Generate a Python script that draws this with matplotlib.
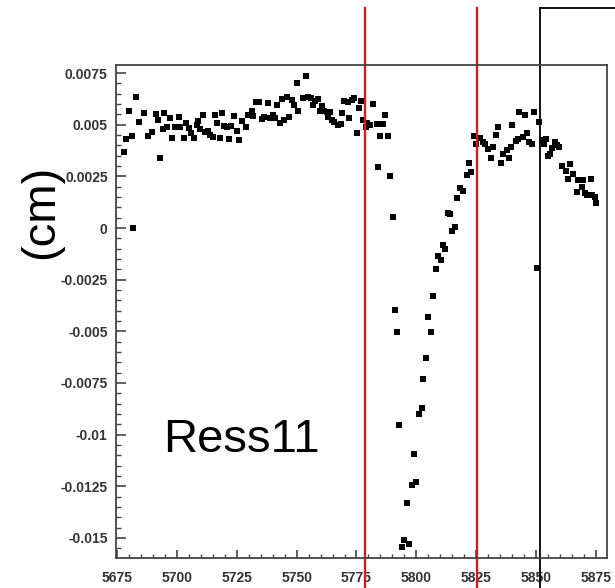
import matplotlib
matplotlib.use("Agg")
import matplotlib.pyplot as plt
from matplotlib.ticker import MultipleLocator, FuncFormatter

plt.rcParams['font.family'] = ['Liberation Sans', 'DejaVu Sans']

# Residual points (x in channel, y in cm)
xs = [5677.9, 5678.7, 5680.0, 5681.1, 5681.8, 5682.9, 5684.3, 5686.4, 5688.0, 5689.7,
      5691.1, 5692.2, 5692.9, 5694.3, 5694.7, 5696.0, 5697.1, 5697.8, 5699.2, 5700.9,
      5701.3, 5702.9, 5703.8, 5705.2, 5705.7, 5707.1, 5708.3, 5708.9, 5709.6, 5711.0,
      5711.7, 5713.1, 5713.8, 5714.9, 5715.9, 5716.9, 5718.0, 5718.9, 5719.7, 5720.8,
      5721.9, 5722.6, 5723.8, 5724.9, 5726.0, 5727.0, 5728.7, 5729.8, 5731.2, 5731.9,
      5733.0, 5734.4, 5735.7, 5736.5, 5737.9, 5738.9, 5740.0, 5741.0, 5741.7, 5743.0,
      5744.0, 5744.7, 5745.8, 5746.9, 5747.9, 5749.0, 5750.0, 5750.7, 5752.5, 5753.9,
      5754.9, 5755.9, 5757.0, 5757.7, 5758.8, 5759.8, 5760.5, 5761.4, 5762.6, 5763.2,
      5763.9, 5764.6, 5765.7, 5767.4, 5768.5, 5768.8, 5769.8, 5771.6, 5772.0, 5773.0,
      5774.0, 5775.1, 5776.0, 5776.9, 5777.8, 5779.0, 5779.5, 5780.6, 5782.0, 5783.4,
      5784.1, 5784.8, 5786.2, 5787.0, 5788.3, 5789.0, 5790.1, 5791.1, 5791.8, 5792.9,
      5794.0, 5795.0, 5796.0, 5797.1, 5798.1, 5799.0, 5799.9, 5801.1, 5802.2, 5802.9,
      5804.0, 5805.0, 5806.1, 5807.1, 5808.2, 5809.2, 5810.2, 5811.0, 5812.2, 5813.4,
      5814.0, 5815.0, 5816.1, 5817.1, 5818.2, 5819.6, 5821.1, 5822.1, 5823.0, 5824.0,
      5825.0, 5826.6, 5827.7, 5828.7, 5830.1, 5831.1, 5831.9, 5833.3, 5834.2, 5835.2,
      5836.1, 5837.7, 5838.7, 5839.4, 5840.2, 5841.6, 5842.6, 5843.0, 5844.4, 5845.4,
      5846.3, 5847.2, 5848.2, 5849.1, 5850.3, 5851.4, 5852.4, 5853.3, 5854.2, 5855.1,
      5855.8, 5856.9, 5857.9, 5858.9, 5859.7, 5861.1, 5862.5, 5863.5, 5864.2, 5865.3,
      5867.0, 5867.6, 5869.1, 5869.5, 5870.4, 5871.4, 5873.2, 5873.6, 5874.6, 5875.3]

ys = [0.00367, 0.00431, 0.00568, 0.00446, 0.00000, 0.00635, 0.00515, 0.00556, 0.00446, 0.00465,
      0.00552, 0.00523, 0.00338, 0.00478, 0.00559, 0.00488, 0.00531, 0.00438, 0.00488, 0.00539,
      0.00488, 0.00434, 0.00510, 0.00483, 0.00459, 0.00434, 0.00499, 0.00520, 0.00478, 0.00547,
      0.00467, 0.00471, 0.00450, 0.00439, 0.00547, 0.00510, 0.00434, 0.00556, 0.00494, 0.00491,
      0.00430, 0.00494, 0.00543, 0.00471, 0.00426, 0.00520, 0.00491, 0.00547, 0.00568, 0.00543,
      0.00612, 0.00609, 0.00527, 0.00539, 0.00604, 0.00531, 0.00547, 0.00531, 0.00596, 0.00507,
      0.00624, 0.00523, 0.00636, 0.00539, 0.00620, 0.00596, 0.00701, 0.00568, 0.00631, 0.00736,
      0.00636, 0.00631, 0.00596, 0.00617, 0.00624, 0.00568, 0.00591, 0.00568, 0.00563, 0.00539,
      0.00563, 0.00523, 0.00515, 0.00499, 0.00504, 0.00556, 0.00617, 0.00612, 0.00531, 0.00620,
      0.00628, 0.00462, 0.00580, 0.00617, 0.00523, 0.00488, 0.00507, 0.00499, 0.00601, 0.00504,
      0.00297, 0.00446, 0.00504, 0.00547, 0.00446, 0.00252, 0.00052, -0.00397, -0.00504, -0.00954,
      -0.01544, -0.01508, -0.01331, -0.01528, -0.01245, -0.01095, -0.01229, -0.00901, -0.00869, -0.00733,
      -0.00627, -0.00430, -0.00502, -0.00329, -0.00199, -0.00136, -0.00155, -0.00082, -0.00103, 0.00074,
      0.00070, -0.00013, 0.00006, 0.00144, 0.00192, 0.00180, 0.00255, 0.00313, 0.00270, 0.00446,
      0.00407, 0.00434, 0.00418, 0.00407, 0.00381, 0.00338, 0.00394, 0.00451, 0.00488, 0.00316,
      0.00359, 0.00378, 0.00338, 0.00394, 0.00499, 0.00423, 0.00430, 0.00563, 0.00442, 0.00547,
      0.00462, 0.00418, 0.00407, 0.00563, -0.00194, 0.00515, 0.00426, 0.00407, 0.00430, 0.00349,
      0.00359, 0.00386, 0.00418, 0.00402, 0.00394, 0.00300, 0.00278, 0.00236, 0.00310, 0.00262,
      0.00176, 0.00233, 0.00200, 0.00233, 0.00171, 0.00160, 0.00236, 0.00160, 0.00152, 0.00123]

# marker lines drawn over the plot
red_lines = [5778.6, 5825.5]
black_line = 5851.8

fig = plt.figure(figsize=(6.15, 5.88), dpi=100)
ax = fig.add_axes([0.1886, 0.051, 0.7984, 0.8385])

ax.plot(xs, ys, 's', color='black', markersize=3.9, markeredgewidth=0)

ax.set_xlim(5674.5, 5879.7)
ax.set_ylim(-0.01597, 0.00789)

# ROOT-like axis look
ax.xaxis.set_major_locator(MultipleLocator(25))
ax.xaxis.set_minor_locator(MultipleLocator(5))
ax.yaxis.set_major_locator(MultipleLocator(0.0025))
ax.yaxis.set_minor_locator(MultipleLocator(0.0005))
ax.yaxis.set_major_formatter(FuncFormatter(lambda v, p: '0' if abs(v) < 1e-9 else ('%g' % round(v, 5))))
ax.xaxis.set_major_formatter(FuncFormatter(lambda v, p: '%d' % v))

ax.tick_params(axis='both', which='both', direction='in', colors='#444444',
               labelcolor='#333333', labelsize=10, top=False, right=False)
ax.tick_params(axis='y', which='major', length=7, width=1.2, pad=6)
ax.tick_params(axis='y', which='minor', length=3.5, width=1.0)
ax.tick_params(axis='x', which='major', length=6, width=1.2, pad=9)
ax.tick_params(axis='x', which='minor', length=3, width=1.0)
for lab in ax.get_xticklabels() + ax.get_yticklabels():
    lab.set_fontweight('bold')
for sp in ax.spines.values():
    sp.set_color('#444444')
    sp.set_linewidth(1.3)

# lines sticking out of the frame
for xv in red_lines:
    ax.axvline(xv, ymin=-0.07, ymax=1.1156, color='#ee1111', linewidth=1.6, clip_on=False)
ax.axvline(black_line, ymin=-0.07, ymax=1.1156, color='black', linewidth=1.3, clip_on=False)
ax.plot([black_line, 5900], [1.1156, 1.1156], color='black', linewidth=1.3, clip_on=False,
        transform=ax.get_xaxis_transform())

fig.text(0.0667, 0.640, '(cm)', rotation=90, fontsize=34, ha='center', va='center')
ax.text(5727, -0.01085, 'Ress11', fontsize=34, ha='center', va='baseline')

fig.savefig('out.png', dpi=100)
